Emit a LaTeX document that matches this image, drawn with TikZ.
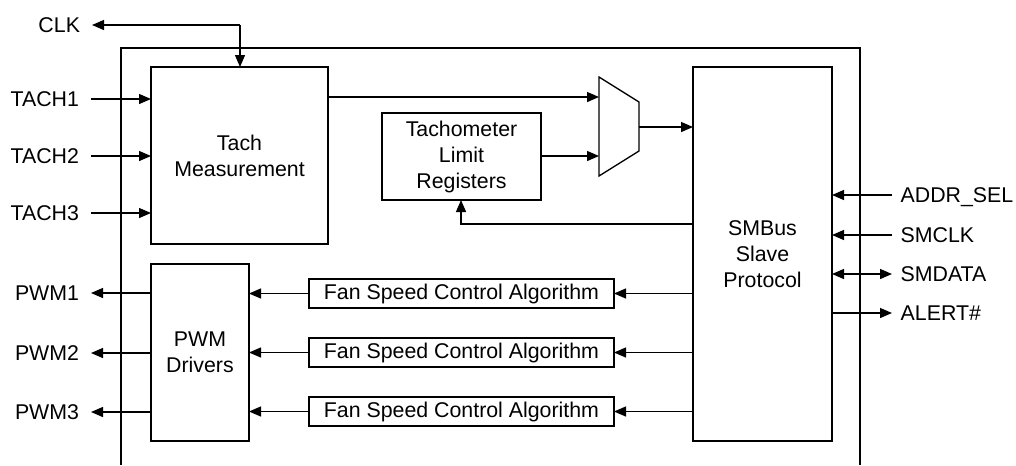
\documentclass[tikz,border=0pt]{standalone}
\usepackage{fontspec}
\setmainfont{Liberation Sans}
\usetikzlibrary{arrows.meta,calc}
\begin{document}
\begin{tikzpicture}[x=0.75pt,y=-0.75pt,
  every node/.style={font=\fontsize{16}{19.5}\selectfont},
  line width=1pt,
  box/.style={draw,inner sep=0pt,outer sep=0pt,align=center},
  arr/.style={-{Triangle[length=9pt,width=7.5pt]}},
  barr/.style={{Triangle[length=9pt,width=7.5pt]}-{Triangle[length=9pt,width=7.5pt]}},
  llab/.style={anchor=east,inner xsep=8.5pt,inner ysep=0pt,text height=11.5pt,text depth=0pt},
  rlab/.style={anchor=west,inner xsep=6pt,inner ysep=0pt,text height=11.5pt,text depth=0pt}]
\useasboundingbox (0,0) rectangle (1016,465);
% outer chip outline
\draw (121,465) -- (121,48) -- (860,48) -- (860,465);
% blocks
\node[box,minimum width=132.75pt,minimum height=132.75pt] (tach) at (239.5,155.5) {Tach\\Measurement};
\node[box,minimum width=119.25pt,minimum height=65.25pt] (tlr) at (461.5,156.5) {Tachometer\\Limit\\Registers};
\node[box,minimum width=104.25pt,minimum height=280.5pt] (smb) at (762.5,254) {SMBus\\Slave\\Protocol};
\node[box,minimum width=73.5pt,minimum height=132.75pt] (pwm) at (200,352.5) {PWM\\Drivers};
\node[box,minimum width=228.75pt,minimum height=21.75pt] (fan1) at (461.5,293.5) {Fan Speed Control Algorithm};
\node[box,minimum width=228.75pt,minimum height=21.75pt] (fan2) at (461.5,352.5) {Fan Speed Control Algorithm};
\node[box,minimum width=228.75pt,minimum height=21.75pt] (fan3) at (461.5,411.5) {Fan Speed Control Algorithm};
% mux
\draw (599,77) -- (639,102) -- (639,151) -- (599,176) -- cycle;
\coordinate (muxin1) at (599,97);
\coordinate (muxin2) at (599,156);
\coordinate (muxout) at (639,127);
% left labels
\node[llab] (clk) at (92,25) {CLK};
\node[llab] (t1) at (91,99) {TACH1};
\node[llab] (t2) at (91,156) {TACH2};
\node[llab] (t3) at (91,213) {TACH3};
\node[llab] (p1) at (91,293) {PWM1};
\node[llab] (p2) at (91,353) {PWM2};
\node[llab] (p3) at (91,412) {PWM3};
% right labels
\node[rlab] (addr) at (892,195) {ADDR\_SEL};
\node[rlab] (smclk) at (892,235) {SMCLK};
\node[rlab] (smdata) at (892,274) {SMDATA};
\node[rlab] (alert) at (892,313) {ALERT\#};
% CLK
\coordinate (clkturn) at (240,25);
\draw[arr] (clkturn) -- (clk.east);
\draw[arr] (clkturn) -- (clkturn |- tach.north);
% tach inputs
\foreach \n in {t1,t2,t3} \draw[arr] (\n.east) -- (tach.west |- \n.east);
% pwm outputs
\foreach \n in {p1,p2,p3} \draw[arr] (pwm.west |- \n.east) -- (\n.east);
% mux
\draw[arr] (tach.east |- muxin1) -- (muxin1);
\draw[arr] (tlr.east |- muxin2) -- (muxin2);
\draw[arr] (muxout) -- (muxout -| smb.west);
% feedback to limit registers
\coordinate (fb) at (461,224);
\draw[arr] (smb.west |- fb) -| (tlr.south -| fb);
% fan speed
\foreach \n in {fan1,fan2,fan3} {
  \draw[arr] (smb.west |- \n.east) -- (\n.east);
  \draw[arr] (\n.west) -- (pwm.east |- \n.west);
}
% right side signals
\draw[arr] (addr.west) -- (smb.east |- addr.west);
\draw[arr] (smclk.west) -- (smb.east |- smclk.west);
\draw[barr] (smb.east |- smdata.west) -- (smdata.west);
\draw[arr] (smb.east |- alert.west) -- (alert.west);
\end{tikzpicture}
\end{document}
